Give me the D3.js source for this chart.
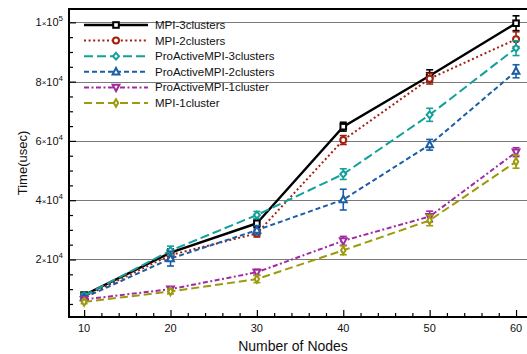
<!DOCTYPE html>
<html lang="en">
<head>
<meta charset="UTF-8">
<title>Time vs nodes</title>
<script src="https://cdn.jsdelivr.net/npm/d3@7"></script>
<style>
  body { margin: 0; background: #fff; }
  svg { display: block; font-family: "Liberation Sans", Arial, sans-serif; }
</style>
</head>
<body>
<svg id="chart" width="527" height="354"></svg>
<script>
// node counts on the x axis
var nodes = [10, 20, 30, 40, 50, 60];

// mean times (usec) and half-widths of the error bars
var mpi3 = [8000, 22300, 32200, 64800, 82000, 99700];
var mpi3Err = [800, 1200, 1500, 1500, 2000, 2500];
var mpi2 = [7500, 21500, 28800, 60300, 81000, 94300];
var mpi2Err = [700, 1200, 1200, 1500, 1800, 2500];
var pa3 = [7800, 23000, 35000, 48800, 68800, 91300];
var pa3Err = [800, 1500, 1200, 1800, 2200, 2500];
var pa2 = [7100, 20300, 29900, 40200, 58700, 83500];
var pa2Err = [700, 2500, 1500, 3500, 1800, 2200];
var pa1 = [6500, 10000, 15700, 26300, 34500, 56200];
var pa1Err = [600, 800, 1000, 1500, 1800, 1500];
var mpi1 = [5700, 9200, 13400, 23100, 33200, 53000];
var mpi1Err = [600, 800, 1200, 1500, 1800, 2200];

var yMajor = [20000, 40000, 60000, 80000, 100000];
var xMajor = [10, 20, 30, 40, 50, 60];

var series = [
  { name: "MPI-3clusters", values: mpi3, err: mpi3Err, color: "#000000", dash: null, width: 2.4, marker: "square" },
  { name: "MPI-2clusters", values: mpi2, err: mpi2Err, color: "#a3200f", dash: "2,2.6", width: 2, marker: "circle" },
  { name: "ProActiveMPI-3clusters", values: pa3, err: pa3Err, color: "#14a09a", dash: "9,4", width: 2, marker: "diamond" },
  { name: "ProActiveMPI-2clusters", values: pa2, err: pa2Err, color: "#1b5ea6", dash: "5,3", width: 2, marker: "triangle" },
  { name: "ProActiveMPI-1cluster", values: pa1, err: pa1Err, color: "#a22aa0", dash: "5,2.5,2,2.5", width: 2, marker: "triangleDown" },
  { name: "MPI-1cluster", values: mpi1, err: mpi1Err, color: "#9d9a0b", dash: "8,4", width: 2, marker: "thinDiamond" }
];

var margin = { left: 69, top: 9, right: -2, bottom: 37 };
var width = 527, height = 354;

var svg = d3.select("#chart");

var x = d3.scaleLinear().domain([8.25, 61.5]).range([margin.left, width - margin.right]);
var y = d3.scaleLinear().domain([600, 104500]).range([height - margin.bottom, margin.top]);

// horizontal grid at the major y ticks
svg.append("g").selectAll("line")
  .data(yMajor)
  .enter().append("line")
  .attr("x1", margin.left).attr("x2", width)
  .attr("y1", function(d) { return Math.round(y(d)) + 0.5; })
  .attr("y2", function(d) { return Math.round(y(d)) + 0.5; })
  .attr("stroke", "#7a7a7a").attr("stroke-width", 1.2);

// y axis: ticks inward, labels drawn separately for the 10^n form
var yAxis = d3.axisRight(y)
  .tickValues(d3.range(5000, 104000, 5000))
  .tickSize(4)
  .tickFormat("");
var yg = svg.append("g")
  .attr("transform", "translate(" + margin.left + ",0)")
  .call(yAxis);
yg.select(".domain").remove();
yg.selectAll(".tick line")
  .attr("stroke", "#000").attr("stroke-width", 1.2)
  .attr("x2", function(d) { return d % 20000 === 0 ? 7 : 4; });

var ylab = svg.append("g").selectAll("text")
  .data(yMajor)
  .enter().append("text")
  .attr("x", margin.left - 6)
  .attr("y", function(d) { return y(d) + 4; })
  .attr("text-anchor", "end")
  .attr("font-size", 11)
  .attr("fill", "#111");
ylab.append("tspan").text(function(d) { return (d / Math.pow(10, Math.floor(Math.log10(d)))) + ""; });
ylab.append("tspan").attr("font-size", 8).attr("dy", -0.5).text("×");
ylab.append("tspan").attr("dy", 0.5).text("10");
ylab.append("tspan").attr("font-size", 8).attr("dy", -5)
  .text(function(d) { return Math.floor(Math.log10(d)); });

// x axis: ticks inward
var xAxis = d3.axisTop(x)
  .tickValues(d3.range(10, 61, 2))
  .tickSize(4)
  .tickFormat("");
var xg = svg.append("g")
  .attr("transform", "translate(0," + (height - margin.bottom) + ")")
  .call(xAxis);
xg.select(".domain").remove();
xg.selectAll(".tick line")
  .attr("stroke", "#000").attr("stroke-width", 1.2)
  .attr("y2", function(d) { return d % 10 === 0 ? -7 : -4; });

svg.append("g").selectAll("text")
  .data(xMajor)
  .enter().append("text")
  .attr("x", function(d) { return x(d); })
  .attr("y", height - margin.bottom + 15)
  .attr("text-anchor", "middle")
  .attr("font-size", 11)
  .attr("fill", "#111")
  .text(function(d) { return d; });

// frame
svg.append("path")
  .attr("d", "M" + width + "," + margin.top + "H" + margin.left + "V" + (height - margin.bottom) + "H" + width)
  .attr("fill", "none").attr("stroke", "#000").attr("stroke-width", 2);

// axis titles
svg.append("text")
  .attr("transform", "translate(27," + 163 + ") rotate(-90)")
  .attr("text-anchor", "middle")
  .attr("font-size", 13)
  .attr("fill", "#111")
  .text("Time(usec)");
svg.append("text")
  .attr("x", 293).attr("y", 351)
  .attr("text-anchor", "middle")
  .attr("font-size", 14)
  .attr("fill", "#111")
  .text("Number of Nodes");

function drawMarker(g, type, color) {
  var m;
  if (type === "square") {
    m = g.append("rect").attr("x", -2.8).attr("y", -2.8).attr("width", 5.6).attr("height", 5.6);
  } else if (type === "circle") {
    m = g.append("circle").attr("r", 3);
  } else if (type === "diamond") {
    m = g.append("path").attr("d", "M0,-3.4L3,0L0,3.4L-3,0Z");
  } else if (type === "triangle") {
    m = g.append("path").attr("d", "M0,-3.8L3.4,2.6L-3.4,2.6Z");
  } else if (type === "triangleDown") {
    m = g.append("path").attr("d", "M0,3.8L3.4,-2.6L-3.4,-2.6Z");
  } else {
    m = g.append("path").attr("d", "M0,-3.8L2.2,0L0,3.8L-2.2,0Z");
  }
  m.attr("fill", "#fff").attr("stroke", color).attr("stroke-width", 2);
}

var line = d3.line()
  .x(function(d) { return x(d.n); })
  .y(function(d) { return y(d.v); });

series.forEach(function(s) {
  var pts = nodes.map(function(n, i) { return { n: n, v: s.values[i], e: s.err[i] }; });
  var g = svg.append("g");

  g.append("path")
    .datum(pts)
    .attr("d", line)
    .attr("fill", "none")
    .attr("stroke", s.color)
    .attr("stroke-width", s.width)
    .attr("stroke-dasharray", s.dash);

  // error bars with caps
  var eb = g.selectAll(".eb").data(pts).enter().append("g");
  eb.append("line")
    .attr("x1", function(d) { return x(d.n); }).attr("x2", function(d) { return x(d.n); })
    .attr("y1", function(d) { return y(d.v - d.e); }).attr("y2", function(d) { return y(d.v + d.e); })
    .attr("stroke", s.color).attr("stroke-width", 1.6);
  [-1, 1].forEach(function(sign) {
    eb.append("line")
      .attr("x1", function(d) { return x(d.n) - 3.5; }).attr("x2", function(d) { return x(d.n) + 3.5; })
      .attr("y1", function(d) { return y(d.v + sign * d.e); }).attr("y2", function(d) { return y(d.v + sign * d.e); })
      .attr("stroke", s.color).attr("stroke-width", 1.6);
  });

  g.selectAll(".mk").data(pts).enter().append("g")
    .attr("transform", function(d) { return "translate(" + x(d.n) + "," + y(d.v) + ")"; })
    .each(function() { drawMarker(d3.select(this), s.marker, s.color); });
});

// legend
var leg = svg.append("g").attr("transform", "translate(84,25)");
series.forEach(function(s, i) {
  var row = leg.append("g").attr("transform", "translate(0," + (i * 15.6) + ")");
  row.append("line")
    .attr("x1", 0).attr("x2", 64)
    .attr("stroke", s.color).attr("stroke-width", s.width)
    .attr("stroke-dasharray", s.dash);
  var mk = row.append("g").attr("transform", "translate(32,0)");
  drawMarker(mk, s.marker, s.color);
  row.append("text")
    .attr("x", 71).attr("y", 4)
    .attr("font-size", 11.5)
    .attr("fill", "#111")
    .text(s.name);
});
</script>
</body>
</html>
